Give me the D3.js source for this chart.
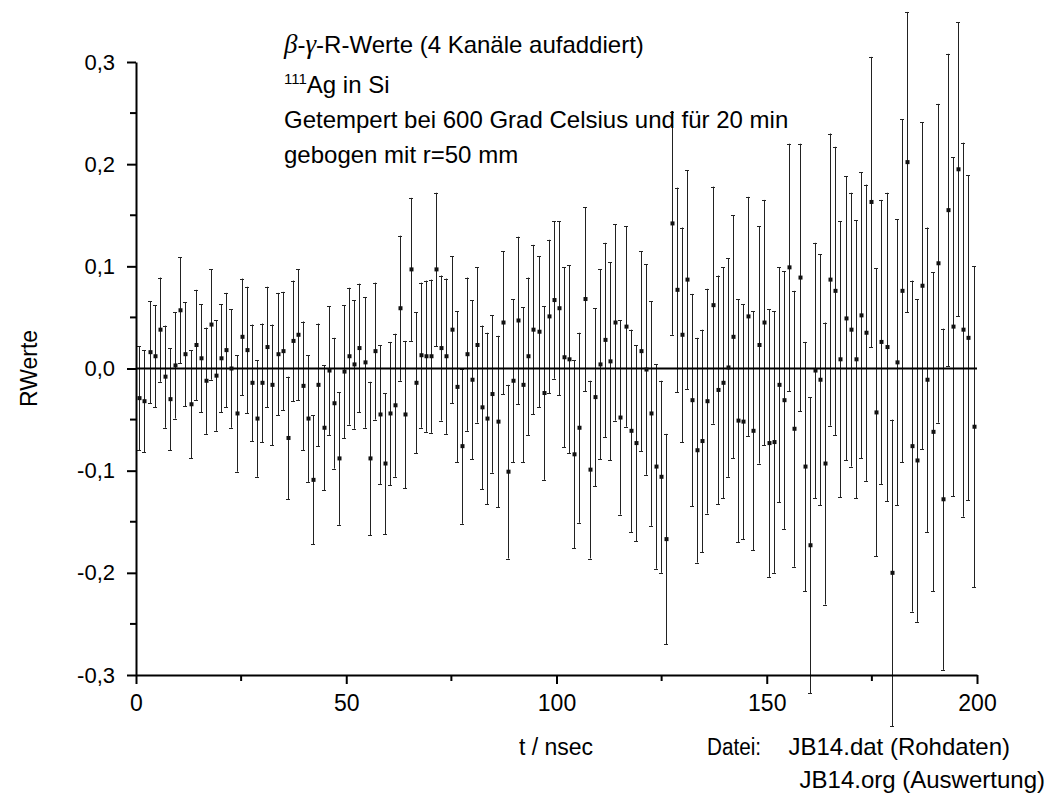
<!DOCTYPE html>
<html lang="de">
    <head>
        <meta charset="utf-8">
        <title>RWerte JB14</title>
        <script src="https://d3js.org/d3.v7.min.js"></script>
        <style>
            body { margin: 0; background: #fff; }
            text { font-family: "Liberation Sans", Arial, sans-serif; fill: #000; }
        </style>
    </head>
    <body>
        <div class="chart"></div>
        <script type="text/javascript">
            // Kanalzeit: erster Kanal und Kanalbreite (nsec)
            var tStart = 0.8;
            var tStep = 1.217;
            // R-Werte je Kanal
            var rValues = [
                -0.029,-0.032,0.016,0.012,0.038,-0.008,-0.030,0.003,0.057,0.014,-0.035,0.023,0.010,-0.012,0.043,-0.007,0.010,0.018,0.000,-0.044,
                0.031,0.018,-0.014,-0.049,-0.014,0.021,-0.016,0.014,0.017,-0.068,0.027,0.033,-0.017,-0.049,-0.109,-0.016,-0.058,-0.002,-0.034,-0.088,-0.003,
                0.012,0.004,0.020,0.006,-0.088,0.017,-0.045,-0.093,-0.044,-0.036,0.059,-0.045,0.097,-0.014,0.013,0.012,0.012,0.097,0.020,0.012,
                0.038,-0.018,-0.076,0.014,-0.011,0.023,-0.038,-0.049,-0.025,-0.052,0.045,-0.101,-0.012,0.047,-0.016,0.012,0.038,0.036,-0.024,0.051,0.067,
                0.059,0.011,0.009,-0.084,-0.058,0.068,-0.099,-0.028,0.004,0.028,0.007,0.045,-0.048,0.041,-0.061,-0.073,0.017,-0.001,-0.044,-0.096,
                -0.106,-0.167,0.142,0.077,0.033,0.087,-0.031,-0.080,-0.071,-0.032,0.062,-0.021,-0.014,0.001,0.031,-0.051,-0.052,0.051,-0.061,0.023,0.045,
                -0.073,-0.072,-0.016,-0.031,0.099,-0.059,0.089,-0.096,-0.173,-0.002,-0.011,-0.093,0.087,0.076,0.009,0.049,0.038,0.009,0.052,0.035,
                0.163,-0.043,0.026,0.021,-0.200,0.006,0.076,0.202,-0.076,-0.090,0.081,-0.011,-0.062,0.103,-0.128,0.155,0.041,0.195,0.038,0.030,-0.057
            ];
            // Fehler (halbe Balkenlaenge)
            var rErrors = [
                0.051,0.050,0.050,0.050,0.051,0.050,0.050,0.052,0.052,0.051,0.053,0.054,0.053,0.052,0.054,0.054,0.053,0.056,0.058,0.057,
                0.057,0.062,0.057,0.057,0.058,0.059,0.059,0.060,0.058,0.060,0.059,0.064,0.063,0.062,0.063,0.060,0.061,0.063,0.064,0.065,0.065,
                0.067,0.063,0.063,0.064,0.075,0.067,0.068,0.069,0.070,0.070,0.071,0.072,0.070,0.069,0.071,0.074,0.075,0.075,0.071,0.076,
                0.072,0.074,0.076,0.075,0.078,0.076,0.080,0.084,0.077,0.084,0.070,0.085,0.080,0.082,0.076,0.077,0.083,0.074,0.085,0.075,0.077,
                0.085,0.088,0.092,0.092,0.093,0.090,0.087,0.087,0.093,0.095,0.097,0.096,0.095,0.098,0.099,0.096,0.098,0.103,0.110,0.100,
                0.094,0.103,0.109,0.100,0.105,0.107,0.104,0.110,0.109,0.110,0.116,0.112,0.113,0.107,0.119,0.119,0.115,0.117,0.117,0.116,0.120,
                0.131,0.128,0.115,0.126,0.121,0.135,0.131,0.122,0.145,0.125,0.123,0.138,0.143,0.141,0.135,0.139,0.134,0.136,0.140,0.145,
                0.142,0.141,0.139,0.151,0.150,0.140,0.168,0.147,0.162,0.158,0.160,0.149,0.156,0.156,0.167,0.153,0.166,0.144,0.183,0.159,0.157
            ];
            var xTicks = [0, 50, 100, 150, 200];
            var xMinor = [25, 75, 125, 175];
            var yTicks = [-0.3, -0.2, -0.1, 0.0, 0.1, 0.2, 0.3];
            var yMinor = [-0.25, -0.15, -0.05, 0.05, 0.15, 0.25];
            var infoLines = ["Getempert bei 600 Grad Celsius und für 20 min", "gebogen mit r=50 mm"];

            var data = rValues.map(function(v, i) {
                return {t: tStart + i * tStep, r: v, e: rErrors[i]};
            });

            var w = 1050, h = 802;
            var svg = d3.select("div.chart").append("svg")
                .attr("width", w)
                .attr("height", h);

            var x = d3.scaleLinear().domain([0, 200]).range([136, 977]);
            var y = d3.scaleLinear().domain([-0.3, 0.3]).range([675, 62]);

            // Zahlen mit Komma
            var de = d3.formatLocale({decimal: ",", thousands: ".", grouping: [3], currency: ["", " €"], minus: "-"});
            var fmt = de.format(".1f");

            // Fehlerbalken
            var bars = svg.append("g").attr("stroke", "#222").attr("stroke-width", 1).attr("fill", "none");
            bars.selectAll("line.bar")
                .data(data).enter().append("line")
                .attr("class", "bar")
                .attr("x1", function(d) { return Math.round(x(d.t)) + 0.5; })
                .attr("x2", function(d) { return Math.round(x(d.t)) + 0.5; })
                .attr("y1", function(d) { return y(d.r + d.e); })
                .attr("y2", function(d) { return y(d.r - d.e); });
            bars.selectAll("line.capT")
                .data(data).enter().append("line")
                .attr("x1", function(d) { return Math.round(x(d.t)) - 2; })
                .attr("x2", function(d) { return Math.round(x(d.t)) + 2; })
                .attr("y1", function(d) { return Math.round(y(d.r + d.e)) + 0.5; })
                .attr("y2", function(d) { return Math.round(y(d.r + d.e)) + 0.5; });
            bars.selectAll("line.capB")
                .data(data).enter().append("line")
                .attr("x1", function(d) { return Math.round(x(d.t)) - 2; })
                .attr("x2", function(d) { return Math.round(x(d.t)) + 2; })
                .attr("y1", function(d) { return Math.round(y(d.r - d.e)) + 0.5; })
                .attr("y2", function(d) { return Math.round(y(d.r - d.e)) + 0.5; });

            // Nulllinie
            svg.append("line")
                .attr("x1", x(0)).attr("x2", x(200))
                .attr("y1", y(0)).attr("y2", y(0))
                .attr("stroke", "#000").attr("stroke-width", 2);

            // Messpunkte
            svg.append("g").selectAll("rect")
                .data(data).enter().append("rect")
                .attr("x", function(d) { return Math.round(x(d.t)) - 1.5; })
                .attr("y", function(d) { return y(d.r) - 2; })
                .attr("width", 4)
                .attr("height", 4)
                .attr("fill", "#111");

            // Achsen
            var xAxis = svg.append("g")
                .attr("transform", "translate(0," + y(-0.3) + ")")
                .call(d3.axisBottom(x).tickValues(xTicks).tickSize(9).tickSizeOuter(0).tickPadding(11).tickFormat(d3.format("d")));
            xAxis.append("g").selectAll("line")
                .data(xMinor).enter().append("line")
                .attr("x1", function(d) { return x(d); }).attr("x2", function(d) { return x(d); })
                .attr("y1", 0).attr("y2", 6)
                .attr("stroke", "#000").attr("stroke-width", 2);
            xAxis.selectAll("text").attr("font-size", 23);

            var yAxis = svg.append("g")
                .attr("transform", "translate(" + x(0) + ",0)")
                .call(d3.axisLeft(y).tickValues(yTicks).tickSize(9).tickSizeOuter(0).tickPadding(12).tickFormat(fmt));
            yAxis.append("g").selectAll("line")
                .data(yMinor).enter().append("line")
                .attr("x1", 0).attr("x2", -6)
                .attr("y1", function(d) { return y(d); }).attr("y2", function(d) { return y(d); })
                .attr("stroke", "#000").attr("stroke-width", 2);
            yAxis.selectAll("text").attr("font-size", 22);

            svg.selectAll(".domain, .tick line").attr("stroke", "#000").attr("stroke-width", 2);

            // Achsenbeschriftungen
            svg.append("text")
                .attr("transform", "translate(37," + y(0) + ") rotate(-90)")
                .attr("text-anchor", "middle")
                .attr("font-size", 23)
                .text("RWerte");
            svg.append("text")
                .attr("x", 556).attr("y", 755)
                .attr("text-anchor", "middle")
                .attr("font-size", 23)
                .text("t / nsec");
            svg.append("text")
                .attr("x", 707).attr("y", 755)
                .attr("font-size", 23)
                .attr("textLength", 54)
                .attr("lengthAdjust", "spacingAndGlyphs")
                .text("Datei:");
            svg.append("text")
                .attr("x", 1010).attr("y", 755)
                .attr("text-anchor", "end")
                .attr("font-size", 24)
                .text("JB14.dat (Rohdaten)");
            svg.append("text")
                .attr("x", 1045).attr("y", 788)
                .attr("text-anchor", "end")
                .attr("font-size", 24)
                .text("JB14.org (Auswertung)");

            // Titelblock
            var title = svg.append("text")
                .attr("x", 284).attr("y", 53)
                .attr("font-size", 24);
            title.append("tspan")
                .attr("font-family", "'Liberation Serif', 'DejaVu Serif', serif")
                .attr("font-style", "italic").attr("font-size", 27)
                .text("β");
            title.append("tspan").text("-");
            title.append("tspan")
                .attr("font-family", "'Liberation Serif', 'DejaVu Serif', serif")
                .attr("font-style", "italic").attr("font-size", 27)
                .text("γ");
            title.append("tspan").text("-R-Werte (4 Kanäle aufaddiert)");

            var iso = svg.append("text")
                .attr("x", 284).attr("y", 93)
                .attr("font-size", 24);
            iso.append("tspan").attr("font-size", 15).attr("dy", -9).text("111");
            iso.append("tspan").attr("dy", 9).text("Ag in Si");

            svg.selectAll("text.info")
                .data(infoLines).enter().append("text")
                .attr("class", "info")
                .attr("x", 284)
                .attr("y", function(d, i) { return 128 + i * 35; })
                .attr("font-size", 24)
                .text(function(d) { return d; });
        </script>
    </body>
</html>
